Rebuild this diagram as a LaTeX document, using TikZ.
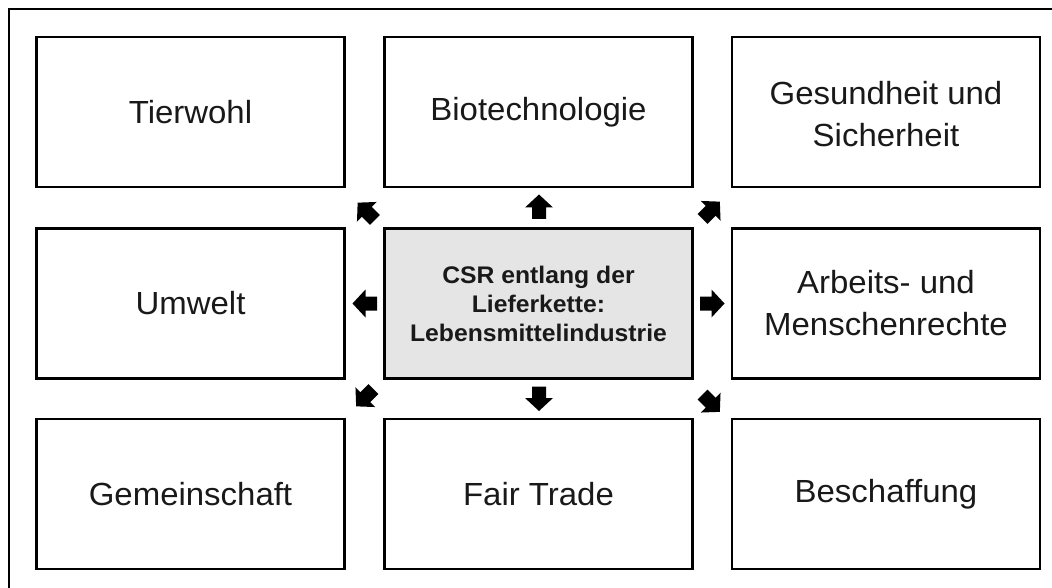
\documentclass[tikz,border=0pt]{standalone}
\usepackage{fontspec}
\setmainfont[FakeStretch=1.03]{Liberation Sans}
\begin{document}
\begin{tikzpicture}[x=1pt,y=-1pt,
  topic/.style={draw=black,line width=2.6pt,fill=white,minimum width=308pt,minimum height=150pt,
    inner sep=0pt,align=center,font=\fontsize{32}{42}\selectfont,text=black!90},
  core/.style={topic,fill=black!10,font=\fontsize{24}{29}\selectfont\bfseries},
  barr/.pic={\fill[black] (12.5,0) -- (-0.5,14) -- (-0.5,7) -- (-12,7) -- (-12,-7) -- (-0.5,-7) -- (-0.5,-14) -- cycle;}]
\useasboundingbox (0,0) rectangle (1052,588);
\draw[line width=2.5pt] (9,9) rectangle (1080,620);
% boxes
\node[topic] (tier) at (190.5,112) {Tierwohl};
\node[topic] (bio) at (538.5,112) {Biotechnologie};
\node[topic] (ges) at (886,112) {};
\node[align=center,font=\fontsize{32}{42}\selectfont,text=black!90,inner sep=0pt] (gestext) at (886,114.5) {Gesundheit und\\Sicherheit};
\node[topic] (umw) at (190.5,303.5) {Umwelt};
\node[core] (csr) at (538.5,303.5) {CSR entlang der\\Lieferkette:\\Lebensmittelindustrie};
\node[topic] (arb) at (886,303.5) {Arbeits- und\\Menschenrechte};
\node[topic] (gem) at (190.5,494) {Gemeinschaft};
\node[topic] (fair) at (538.5,494) {Fair Trade};
\node[topic] (besch) at (886,494) {Beschaffung};
% block arrows
\pic[rotate=90] at (539,207) {barr};
\pic[rotate=270] at (539,398.5) {barr};
\pic[rotate=180] at (365,303.5) {barr};
\pic[rotate=0] at (712,303.5) {barr};
\pic[rotate=135] at (366.5,211.5) {barr};
\pic[rotate=45] at (711,210.5) {barr};
\pic[rotate=225] at (365,397.5) {barr};
\pic[rotate=315] at (711,403) {barr};
\end{tikzpicture}
\end{document}
